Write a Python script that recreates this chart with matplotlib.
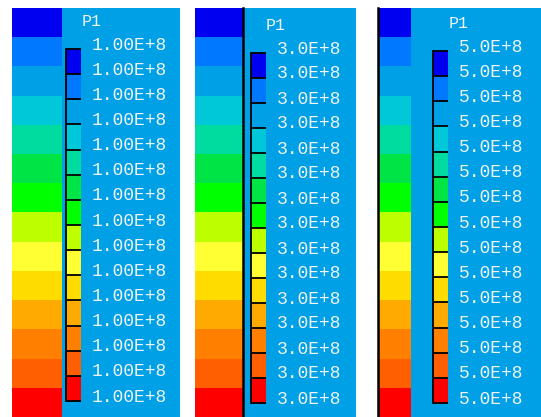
import numpy as np
import matplotlib
matplotlib.use('Agg')
import matplotlib.pyplot as plt
from matplotlib.transforms import blended_transform_factory, offset_copy

W, H = 541, 417
dpi = 100

# contour colours, top (lowest) to bottom (highest)
band_colors = ['#0000f0', '#0078ff', '#00a0e6', '#00c8d8', '#00dca0', '#00e446',
               '#00ff00', '#beff00', '#ffff33', '#ffdc00', '#ffaa00', '#ff8000',
               '#ff5f00', '#ff0000']
bg_blue = '#00a0e6'

title = 'P1'
labels_1 = ['1.00E+8'] * 15
labels_2 = ['3.0E+8'] * 15
labels_3 = ['5.0E+8'] * 15

txt_color = '#eef4f8'
font = 'Liberation Mono'


def px_axes(fig, x0, y0, x1, y1):
    return fig.add_axes([x0 / W, 1 - y1 / H, (x1 - x0) / W, (y1 - y0) / H])


def draw_panel(fig, labels, strip, blue, boxes, label_x, title_xy, edge):
    # blue background of the legend area
    axb = px_axes(fig, *blue)
    axb.set_facecolor(bg_blue)
    axb.set_xticks([])
    axb.set_yticks([])
    for s in axb.spines.values():
        s.set_visible(False)

    # contour strip
    ax = px_axes(fig, *strip)
    n = len(band_colors)
    ax.bar(np.zeros(n), np.ones(n), bottom=np.arange(n), width=1,
           color=band_colors, linewidth=0)
    ax.set_xlim(-0.5, 0.5)
    ax.set_ylim(n, 0)
    ax.set_xticks([])
    ax.set_yticks([])
    for k, s in ax.spines.items():
        s.set_visible(k == edge)
        s.set_linewidth(1.8)
        s.set_color('black')

    # legend boxes
    axl = px_axes(fig, *boxes)
    axl.bar(np.zeros(n), np.ones(n), bottom=np.arange(n), width=1,
            color=band_colors, linewidth=0)
    axl.hlines(np.arange(n + 1), -0.5, 0.5, color='black', linewidth=1.3,
               zorder=3, clip_on=False)
    axl.set_xlim(-0.5, 0.5)
    axl.set_ylim(n, 0)
    axl.set_xticks([])
    axl.set_yticks([])
    for k, s in axl.spines.items():
        s.set_visible(k == 'left')
        s.set_linewidth(1.3)
        s.set_color('black')
    axl.patch.set_alpha(0)

    tr = blended_transform_factory(axl.transAxes, axl.transData)
    tr = offset_copy(tr, fig, x=label_x - boxes[2], y=4, units='dots')
    for i, lab in enumerate(labels):
        axl.text(1, i, lab, transform=tr, ha='left', va='center',
                 color=txt_color, fontsize=13, family=font, clip_on=False)

    fig.text(title_xy[0] / W, 1 - title_xy[1] / H, title, ha='left', va='center',
             color=txt_color, fontsize=12, family=font)


fig = plt.figure(figsize=(W / dpi, H / dpi), dpi=dpi)
fig.patch.set_facecolor('white')

draw_panel(fig, labels_1, (12, 8, 62, 417), (62, 8, 180, 417),
           (66, 49, 81, 401), 92, (82, 22), None)
draw_panel(fig, labels_2, (195, 8, 243, 417), (243, 8, 356, 417),
           (251, 53, 266, 403), 277, (266, 26), 'right')
draw_panel(fig, labels_3, (378, 8, 411, 417), (411, 8, 541, 417),
           (433, 51, 448, 403), 459, (449, 23), 'left')

plt.savefig('out.png', dpi=dpi)
